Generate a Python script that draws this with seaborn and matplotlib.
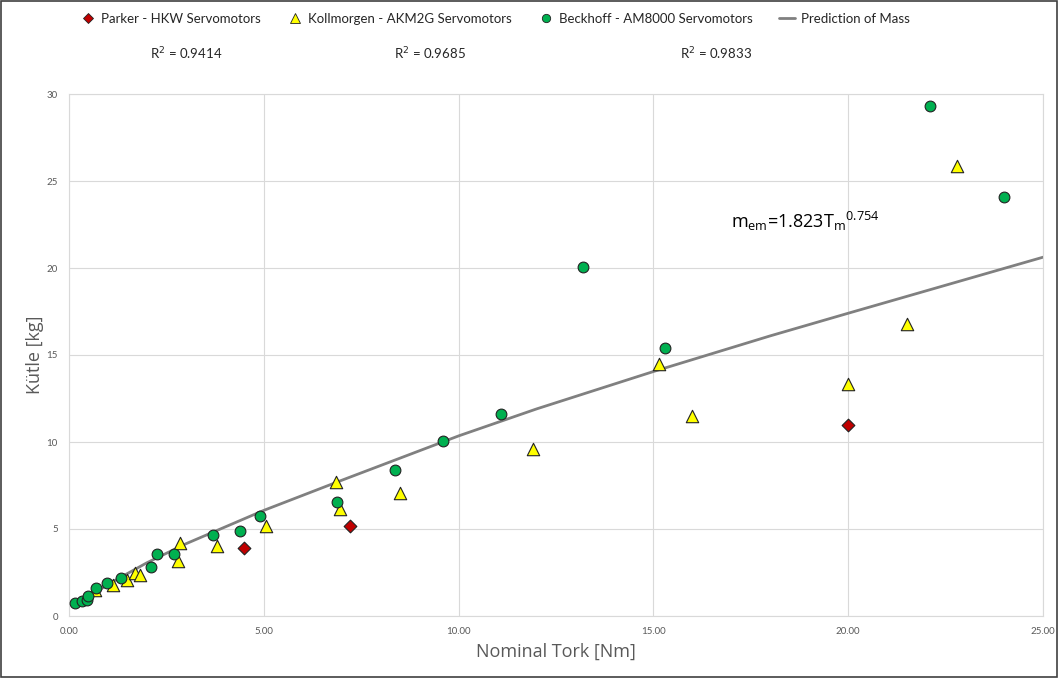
import pandas as pd
import seaborn as sns
import matplotlib.pyplot as plt
from matplotlib.lines import Line2D
from matplotlib.patches import Rectangle

# data
parker_torque = [4.5, 7.2, 20.0]
parker_mass = [3.9, 5.2, 11.0]

kollmorgen_torque = [0.67, 1.12, 1.48, 1.69, 1.81, 2.81, 2.85, 3.8, 5.05, 6.85, 6.95, 8.5,
                     11.9, 15.15, 16.0, 20.0, 21.5, 22.8]
kollmorgen_mass = [1.5, 1.8, 2.07, 2.47, 2.36, 3.14, 4.2, 4.0, 5.17, 7.7, 6.15, 7.07,
                   9.6, 14.48, 11.49, 13.35, 16.8, 25.86]

beckhoff_torque = [0.15, 0.33, 0.45, 0.5, 0.69, 0.98, 1.33, 2.1, 2.25, 2.7, 3.7, 4.39,
                   4.89, 6.89, 8.36, 9.61, 11.1, 13.2, 15.3, 22.1, 24.0]
beckhoff_mass = [0.73, 0.86, 0.92, 1.15, 1.63, 1.92, 2.16, 2.8, 3.56, 3.56, 4.66, 4.89,
                 5.77, 6.55, 8.37, 10.06, 11.6, 20.06, 15.4, 29.3, 24.08]

pred_torque = [0.5, 1.0, 2.0, 3.0, 5.0, 7.0, 10.0, 12.0, 15.0, 18.0, 20.0, 25.0]
pred_mass = [1.08, 1.82, 3.06, 4.15, 6.07, 7.8, 10.35, 11.9, 14.05, 16.1, 17.4, 20.62]

r2_labels = ["R$^2$ = 0.9414", "R$^2$ = 0.9685", "R$^2$ = 0.9833"]

series = ["Parker - HKW Servomotors", "Kollmorgen - AKM2G Servomotors", "Beckhoff - AM8000 Servomotors"]
colors = {series[0]: "#C00000", series[1]: "#FFFF00", series[2]: "#00B050"}
markers = {series[0]: "D", series[1]: "^", series[2]: "o"}
sizes = {series[0]: 42, series[1]: 80, series[2]: 60}

df = pd.concat([
    pd.DataFrame({"torque": parker_torque, "mass": parker_mass, "series": series[0]}),
    pd.DataFrame({"torque": kollmorgen_torque, "mass": kollmorgen_mass, "series": series[1]}),
    pd.DataFrame({"torque": beckhoff_torque, "mass": beckhoff_mass, "series": series[2]}),
])
pred = pd.DataFrame({"torque": pred_torque, "mass": pred_mass})

sns.set_style("white")
narrow = ["Lato", "DejaVu Sans"]
plt.rcParams["font.family"] = ["Open Sans", "DejaVu Sans"]

fig = plt.figure(figsize=(10.59, 6.78), dpi=100)
ax = fig.add_axes([69 / 1059, 1 - 616 / 678, (1043 - 69) / 1059, (616 - 94) / 678])

sns.lineplot(data=pred, x="torque", y="mass", color="#808080", linewidth=2, ax=ax, zorder=2)
for s in series:
    sub = df[df["series"] == s]
    sns.scatterplot(data=sub, x="torque", y="mass", color=colors[s], marker=markers[s],
                    s=sizes[s], edgecolor="#222222", linewidth=0.8, ax=ax, zorder=3, legend=False)

ax.set_xlim(0, 25)
ax.set_ylim(0, 30)
ax.set_xticks([0, 5, 10, 15, 20, 25])
ax.set_xticklabels([f"{v:.2f}" for v in [0, 5, 10, 15, 20, 25]])
ax.set_yticks([0, 5, 10, 15, 20, 25, 30])
ax.grid(True, color="#D9D9D9", linewidth=0.8)
for sp in ax.spines.values():
    sp.set_color("#D9D9D9")
    sp.set_linewidth(0.8)
ax.tick_params(length=0, labelsize=7, labelcolor="#595959", pad=8)
for lab in ax.get_xticklabels() + ax.get_yticklabels():
    lab.set_family(narrow)
ax.set_xlabel("Nominal Tork [Nm]", fontsize=13, color="#595959", labelpad=5)
ax.set_ylabel("Kütle [kg]", fontsize=13, color="#595959", labelpad=2)

ax.text(18.9, 22.7, r"m$_{\mathregular{em}}$=1.823T$_{\mathregular{m}}$$^{\mathregular{0.754}}$",
        fontsize=13, color="#000000", ha="center", va="center")

handles = [
    Line2D([], [], linestyle="", marker="D", markersize=5, markerfacecolor="#C00000", markeredgecolor="#222222", markeredgewidth=0.6),
    Line2D([], [], linestyle="", marker="^", markersize=7, markerfacecolor="#FFFF00", markeredgecolor="#222222", markeredgewidth=0.6),
    Line2D([], [], linestyle="", marker="o", markersize=6, markerfacecolor="#00B050", markeredgecolor="#222222", markeredgewidth=0.6),
    Line2D([], [], color="#808080", linewidth=2),
]
fig.legend(handles, series + ["Prediction of Mass"], loc="center", bbox_to_anchor=(0.467, 1 - 19 / 678),
           ncol=4, frameon=False, prop={"family": narrow, "size": 9.5}, handlelength=1.2,
           handletextpad=0.4, columnspacing=2.0)

for xp, lab in zip([186, 430, 716], r2_labels):
    fig.text(xp / 1059, 1 - 54 / 678, lab, ha="center", va="center", fontsize=9.5, family=narrow)

fig.patches.append(Rectangle((0.001, 0.001), 0.997, 0.997, transform=fig.transFigure,
                             fill=False, edgecolor="#404040", linewidth=1.2))

fig.savefig("out.png", dpi=100)
